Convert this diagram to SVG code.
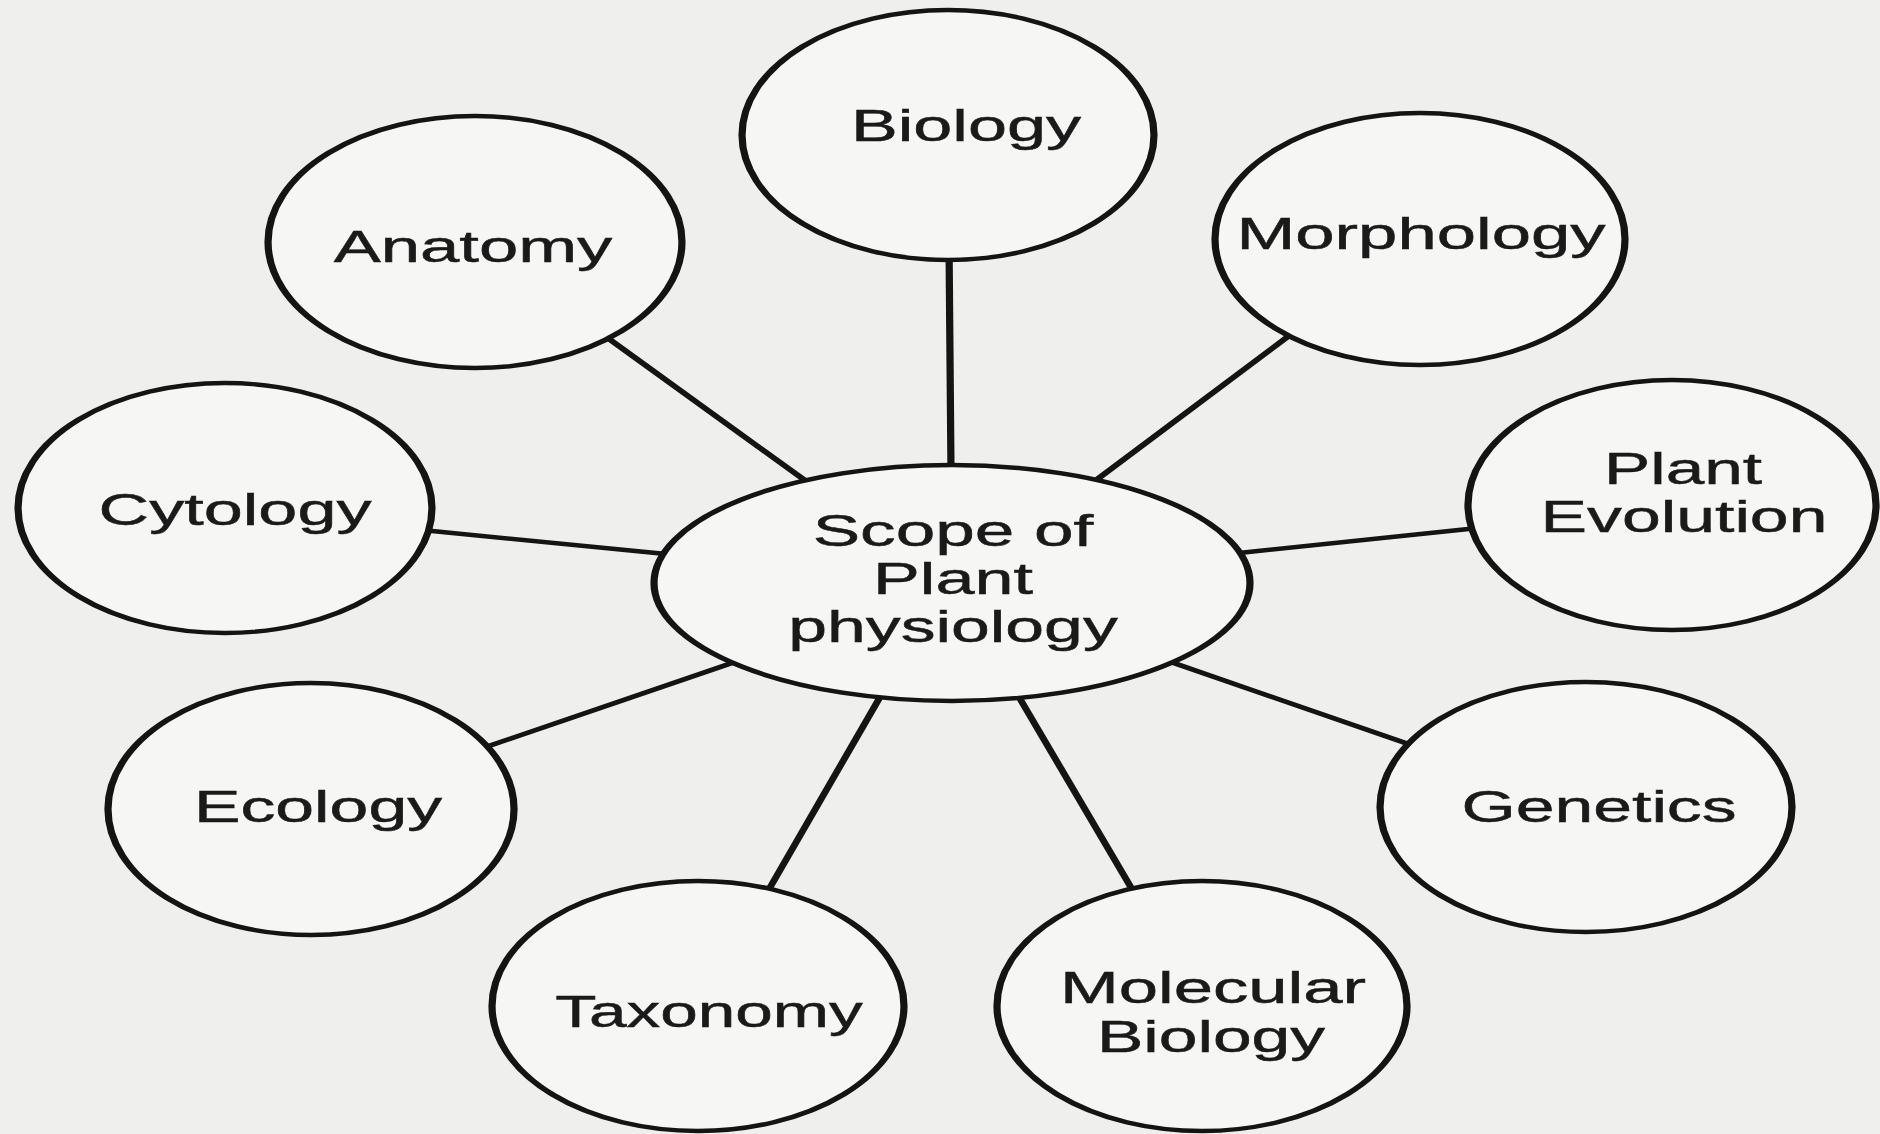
<svg xmlns="http://www.w3.org/2000/svg" width="1880" height="1134" viewBox="0 0 1880 1134">
<style>
.bg{fill:#efefee}
.node{fill:#f6f6f5;stroke:#141414;stroke-width:4.4}
.conn{stroke:#141414;stroke-width:4.4;fill:none;stroke-linecap:butt}
.lbl{font-family:"Liberation Sans",Arial,Helvetica,sans-serif;font-size:45px;fill:#1a1a1a;text-anchor:middle;stroke:#1a1a1a;stroke-width:0.5}
</style>
<rect class="bg" x="0" y="0" width="1880" height="1134"/>
<g id="connectors" transform="scale(1.64 1)">
<line class="conn" x1="578.7" y1="250" x2="579.9" y2="475"/>
<line class="conn" x1="368.9" y1="336" x2="493.9" y2="484"/>
<line class="conn" x1="789.0" y1="332" x2="665.2" y2="484"/>
<line class="conn" x1="257.3" y1="530" x2="406.1" y2="554"/>
<line class="conn" x1="901.2" y1="528" x2="755.5" y2="553"/>
<line class="conn" x1="294.5" y1="748" x2="446.3" y2="663"/>
<line class="conn" x1="466.5" y1="896" x2="538.4" y2="692"/>
<line class="conn" x1="692.7" y1="896" x2="619.5" y2="692"/>
<line class="conn" x1="864.0" y1="747" x2="712.2" y2="661"/>
</g>
<g id="scope">
<ellipse class="node" rx="181.7" ry="118" transform="translate(952 583) scale(1.64 1)"/>
<text class="lbl" transform="translate(953 546) scale(1.58 1)">Scope of</text>
<text class="lbl" transform="translate(953 594) scale(1.56 1)">Plant</text>
<text class="lbl" transform="translate(953 642) scale(1.55 1)">physiology</text>
</g>
<g id="biology">
<ellipse class="node" rx="125.6" ry="125" transform="translate(948 135) scale(1.64 1)"/>
<text class="lbl" transform="translate(966 141) scale(1.56 1)">Biology</text>
</g>
<g id="anatomy">
<ellipse class="node" rx="126.2" ry="126" transform="translate(475 242) scale(1.64 1)"/>
<text class="lbl" transform="translate(473 262) scale(1.57 1)">Anatomy</text>
</g>
<g id="morphology">
<ellipse class="node" rx="125" ry="126" transform="translate(1420 239) scale(1.64 1)"/>
<text class="lbl" transform="translate(1421 249) scale(1.57 1)">Morphology</text>
</g>
<g id="cytology">
<ellipse class="node" rx="126.2" ry="125" transform="translate(225 508) scale(1.64 1)"/>
<text class="lbl" transform="translate(235 525) scale(1.56 1)">Cytology</text>
</g>
<g id="plant-evolution">
<ellipse class="node" rx="124.4" ry="125" transform="translate(1672 505) scale(1.64 1)"/>
<text class="lbl" transform="translate(1683 484) scale(1.54 1)">Plant</text>
<text class="lbl" transform="translate(1684 532) scale(1.55 1)">Evolution</text>
</g>
<g id="ecology">
<ellipse class="node" rx="123.8" ry="126" transform="translate(311 809) scale(1.64 1)"/>
<text class="lbl" transform="translate(318 822) scale(1.55 1)">Ecology</text>
</g>
<g id="genetics">
<ellipse class="node" rx="125.6" ry="125" transform="translate(1586 807) scale(1.64 1)"/>
<text class="lbl" transform="translate(1599 822) scale(1.55 1)">Genetics</text>
</g>
<g id="taxonomy">
<ellipse class="node" rx="125.6" ry="125" transform="translate(698 1006) scale(1.64 1)"/>
<text class="lbl" transform="translate(709 1027) scale(1.50 1)">Taxonomy</text>
</g>
<g id="molecular-biology">
<ellipse class="node" rx="125" ry="125" transform="translate(1202 1006) scale(1.64 1)"/>
<text class="lbl" transform="translate(1213 1003) scale(1.57 1)">Molecular</text>
<text class="lbl" transform="translate(1211 1052) scale(1.545 1)">Biology</text>
</g>
</svg>
